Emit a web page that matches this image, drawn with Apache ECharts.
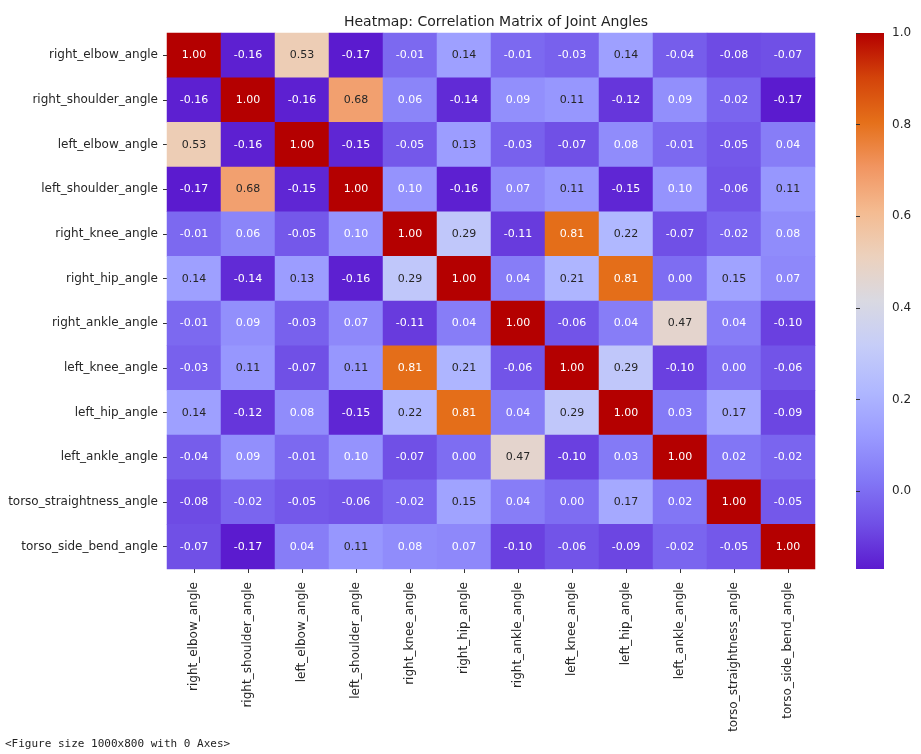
<!DOCTYPE html>
<html>
<head>
<meta charset="utf-8">
<script src="https://cdn.jsdelivr.net/npm/echarts@6/dist/echarts.min.js"></script>
<style>
  html, body { margin: 0; padding: 0; background: #fff; }
  #chart { width: 921px; height: 754px; }
</style>
</head>
<body>
<div id="chart"></div>
<script>
// Joint angle names (rows and columns of the correlation matrix)
const joints = [
  'right_elbow_angle', 'right_shoulder_angle', 'left_elbow_angle', 'left_shoulder_angle',
  'right_knee_angle', 'right_hip_angle', 'right_ankle_angle', 'left_knee_angle',
  'left_hip_angle', 'left_ankle_angle', 'torso_straightness_angle', 'torso_side_bend_angle'
];

// Correlation rows, one per joint
const rightElbow     = [1.00, -0.16, 0.53, -0.17, -0.01, 0.14, -0.01, -0.03, 0.14, -0.04, -0.08, -0.07];
const rightShoulder  = [-0.16, 1.00, -0.16, 0.68, 0.06, -0.14, 0.09, 0.11, -0.12, 0.09, -0.02, -0.17];
const leftElbow      = [0.53, -0.16, 1.00, -0.15, -0.05, 0.13, -0.03, -0.07, 0.08, -0.01, -0.05, 0.04];
const leftShoulder   = [-0.17, 0.68, -0.15, 1.00, 0.10, -0.16, 0.07, 0.11, -0.15, 0.10, -0.06, 0.11];
const rightKnee      = [-0.01, 0.06, -0.05, 0.10, 1.00, 0.29, -0.11, 0.81, 0.22, -0.07, -0.02, 0.08];
const rightHip       = [0.14, -0.14, 0.13, -0.16, 0.29, 1.00, 0.04, 0.21, 0.81, 0.00, 0.15, 0.07];
const rightAnkle     = [-0.01, 0.09, -0.03, 0.07, -0.11, 0.04, 1.00, -0.06, 0.04, 0.47, 0.04, -0.10];
const leftKnee       = [-0.03, 0.11, -0.07, 0.11, 0.81, 0.21, -0.06, 1.00, 0.29, -0.10, 0.00, -0.06];
const leftHip        = [0.14, -0.12, 0.08, -0.15, 0.22, 0.81, 0.04, 0.29, 1.00, 0.03, 0.17, -0.09];
const leftAnkle      = [-0.04, 0.09, -0.01, 0.10, -0.07, 0.00, 0.47, -0.10, 0.03, 1.00, 0.02, -0.02];
const torsoStraight  = [-0.08, -0.02, -0.05, -0.06, -0.02, 0.15, 0.04, 0.00, 0.17, 0.02, 1.00, -0.05];
const torsoSideBend  = [-0.07, -0.17, 0.04, 0.11, 0.08, 0.07, -0.10, -0.06, -0.09, -0.02, -0.05, 1.00];

const matrix = [rightElbow, rightShoulder, leftElbow, leftShoulder, rightKnee, rightHip,
                rightAnkle, leftKnee, leftHip, leftAnkle, torsoStraight, torsoSideBend];

// Colour bar range and tick labels
const scaleMin = -0.17;
const scaleMax = 1.0;
const colorbarTicks = [0.0, 0.2, 0.4, 0.6, 0.8, 1.0];

// Diverging palette: purple -> lavender -> grey -> peach -> orange -> dark red
const palette = [
  '#5b1bcf', '#704fe6', '#8378f6', '#9a9bff', '#b0b8ff', '#c6cdf8', '#d9d9e2',
  '#ecd1bd', '#f4bb91', '#f19561', '#e5701a', '#d3430a', '#b40000'
];

const cells = [];
matrix.forEach((row, r) => {
  row.forEach((v, c) => {
    const dark = v > 0.105 && v < 0.75;
    cells.push({
      value: [c, r, v],
      label: { color: dark ? '#262626' : '#ffffff' }
    });
  });
});

const gridLeft = 167, gridTop = 33, gridW = 648, gridH = 536;
const barLeft = 856, barW = 28;
const font = 'DejaVu Sans';

// Colour bar gradient: same palette, low values at the bottom
const barStops = palette.map((c, i) => ({ offset: i / (palette.length - 1), color: c }));

const chart = echarts.init(document.getElementById('chart'), null, { renderer: 'canvas' });
chart.setOption({
  animation: false,
  backgroundColor: '#ffffff',
  textStyle: { fontFamily: font },
  title: {
    text: 'Heatmap: Correlation Matrix of Joint Angles',
    left: gridLeft + gridW / 2,
    textAlign: 'center',
    top: 10,
    textStyle: { fontFamily: font, fontSize: 14, fontWeight: 'normal', color: '#222' }
  },
  grid: [
    { left: gridLeft, top: gridTop, width: gridW, height: gridH },
    { left: barLeft, top: gridTop, width: barW, height: gridH }
  ],
  xAxis: [
    {
      type: 'category', gridIndex: 0, data: joints, position: 'bottom',
      axisLine: { show: false },
      axisTick: { show: true, alignWithLabel: true, length: 4, lineStyle: { color: '#333' } },
      axisLabel: { rotate: 90, fontSize: 12, color: '#262626', margin: 13, fontFamily: font, interval: 0 },
      splitLine: { show: false }
    },
    { type: 'value', gridIndex: 1, show: false, min: 0, max: 1 }
  ],
  yAxis: [
    {
      type: 'category', gridIndex: 0, data: joints, inverse: true,
      axisLine: { show: false },
      axisTick: { show: true, alignWithLabel: true, length: 4, lineStyle: { color: '#333' } },
      axisLabel: { fontSize: 12, color: '#262626', margin: 9, fontFamily: font, interval: 0 },
      splitLine: { show: false }
    },
    {
      type: 'value', gridIndex: 1, position: 'right', min: scaleMin, max: scaleMax,
      axisLine: { show: false },
      axisTick: { show: true, length: 4, lineStyle: { color: '#333' }, customValues: colorbarTicks },
      axisLabel: {
        fontSize: 12, color: '#262626', margin: 8, fontFamily: font,
        padding: [4, 0, 0, 0],
        customValues: colorbarTicks,
        formatter: v => v.toFixed(1)
      },
      splitLine: { show: false }
    }
  ],
  visualMap: {
    type: 'continuous',
    show: false,
    seriesIndex: 0,
    min: scaleMin,
    max: scaleMax,
    inRange: { color: palette }
  },
  series: [
    {
      type: 'heatmap',
      xAxisIndex: 0,
      yAxisIndex: 0,
      data: cells,
      label: {
        show: true,
        fontSize: 11,
        fontFamily: font,
        formatter: p => p.value[2].toFixed(2)
      },
      itemStyle: { borderWidth: 0 },
      emphasis: { disabled: true }
    }
  ],
  graphic: [
    {
      type: 'rect',
      left: barLeft,
      top: gridTop,
      z: -1,
      shape: { width: barW, height: gridH },
      style: {
        fill: new echarts.graphic.LinearGradient(0, 1, 0, 0, barStops)
      }
    },
    {
      type: 'text',
      left: 5,
      top: 739,
      style: {
        text: '<Figure size 1000x800 with 0 Axes>',
        font: '11px "DejaVu Sans Mono"',
        fill: '#222'
      }
    }
  ]
});
</script>
</body>
</html>
